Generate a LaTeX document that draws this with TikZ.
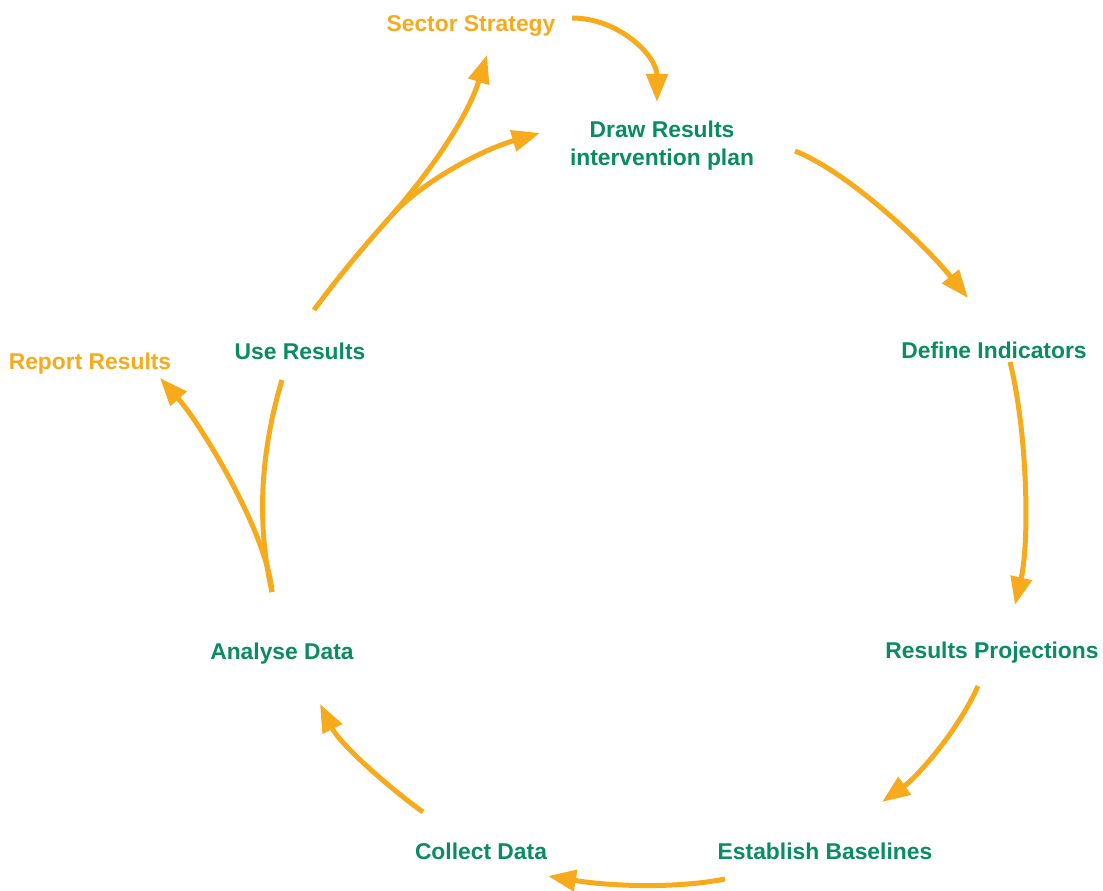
\documentclass[tikz,border=0pt]{standalone}
\usepackage{fontspec}
\setmainfont{Liberation Sans}
\usetikzlibrary{arrows.meta}
\definecolor{leaf}{RGB}{10,140,98}
\definecolor{amber}{RGB}{246,170,28}
\tikzset{stage/.style={text=leaf,font=\bfseries\fontsize{13}{16}\selectfont,align=center,inner sep=0pt,text height=0.72em,text depth=0.22em},
	side/.style={stage,text=amber},
	link/.style={amber,line width=0.1cm},
	flow/.style={link,-{Triangle[length=0.56cm,width=0.42cm]}}}
\begin{document}
\begin{tikzpicture}[x=0.02cm,y=-0.02cm]
	\path[use as bounding box](0,0)rectangle(1103,891);
	\node[side](ss)at(471,27){Sector Strategy};
	\node[stage](dr)at(662,161){Draw Results\\intervention plan};
	\node[stage](di)at(994,354){Define Indicators};
	\node[stage](rp)at(992,654){Results Projections};
	\node[stage](eb)at(825,855){Establish Baselines};
	\node[stage](cd)at(481,855){Collect Data};
	\node[stage](ad)at(282,655){Analyse Data};
	\node[stage](ur)at(300,355){Use Results};
	\node[side](rr)at(90,365){Report Results};
	\coordinate(split)at([shift={(-10,-63)}]ad.center);
	\coordinate(fork)at(392,215);
	% cycle
	\draw[flow]([shift={(101,-9)}]ss.center)..controls(619,18)and(657,56)..([shift={(-5,-59)}]dr.center);
	\draw[flow]([shift={(133,-10)}]dr.center)..controls(850,173)and(925,245)..([shift={(-26,-56)}]di.center);
	\draw[flow]([shift={(16,8)}]di.center)..controls(1027,430)and(1030,540)..([shift={(23,-49)}]rp.center);
	\draw[flow]([shift={(-14,32)}]rp.center)..controls(958,731)and(917,777)..([shift={(57,-53)}]eb.center);
	\draw[flow]([shift={(-100,24)}]eb.center)..controls(675,889)and(608,886)..([shift={(67,21)}]cd.center);
	\draw[flow]([shift={(-58,-43)}]cd.center)..controls(388,787)and(340,744)..([shift={(38,49)}]ad.center);
	\draw[link](split)..controls(256,522)and(261,450)..([shift={(-18,25)}]ur.center);
	\draw[flow](split)..controls(267,532)and(200,423)..([shift={(70,13)}]rr.center);
	\draw[flow]([shift={(14,-45)}]ur.center)..controls(342,272)and(367,243)..(fork)
		..controls(420,183)and(465,125)..([shift={(16,28)}]ss.center);
	\draw[flow](fork)..controls(418,186)and(475,152)..([shift={(-122,-28)}]dr.center);
\end{tikzpicture}
\end{document}
